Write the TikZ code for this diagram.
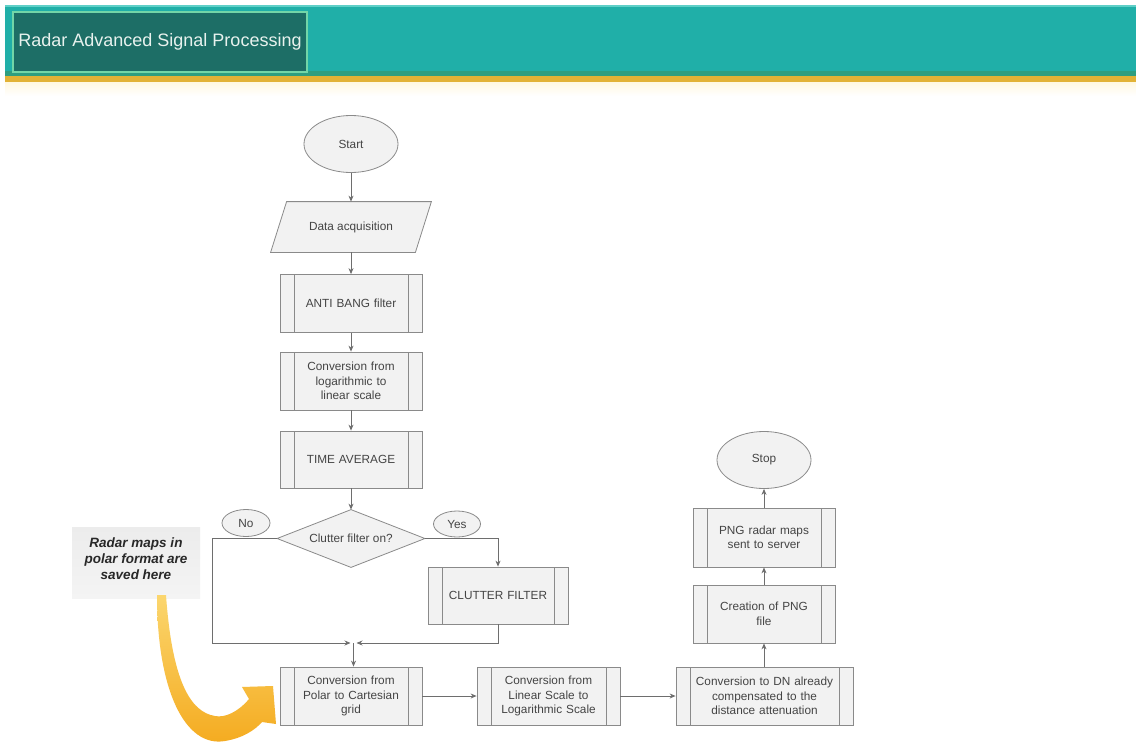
\documentclass[tikz,border=0pt]{standalone}
\usepackage{fontspec}
\setmainfont{Liberation Sans}
\usetikzlibrary{shapes.geometric,arrows.meta,backgrounds}
\definecolor{teal1}{HTML}{20AFA8}
\definecolor{teal2}{HTML}{1D6E66}
\definecolor{tealtop}{HTML}{5FCFC7}
\definecolor{tealbot}{HTML}{2E9E80}
\definecolor{tealedge}{HTML}{72D6A8}
\definecolor{titletxt}{HTML}{E8F2EE}
\definecolor{goldband}{HTML}{E2B236}
\definecolor{cream}{HTML}{FFF8E1}
\definecolor{boxfill}{HTML}{F2F2F2}
\definecolor{boxline}{HTML}{8A8A8A}
\definecolor{linecol}{HTML}{6E6E6E}
\definecolor{txt}{HTML}{444444}
\definecolor{notetxt}{HTML}{282828}
\definecolor{noteA}{HTML}{ECECEC}
\definecolor{noteB}{HTML}{F4F4F4}
\definecolor{arrowA}{HTML}{FBD66E}
\definecolor{arrowB}{HTML}{F4AA1E}
\tikzset{
  x=1pt, y=-1pt,
  base/.style={draw=boxline, fill=boxfill, line width=0.8pt, text=txt,
    font=\fontsize{11.8}{14.5}\selectfont, align=center, inner sep=0pt},
  procbox/.style={base, rectangle, minimum width=142pt, minimum height=58pt, text width=126pt,
    path picture={
      \draw[boxline, line width=0.7pt]
        ([xshift=14pt]path picture bounding box.north west) -- ([xshift=14pt]path picture bounding box.south west)
        ([xshift=-14pt]path picture bounding box.north east) -- ([xshift=-14pt]path picture bounding box.south east);}},
  termbox/.style={base, ellipse, minimum width=94pt, minimum height=57pt},
  tagbox/.style={base, ellipse, minimum width=48pt, minimum height=27pt},
  ghost/.style={base, draw=none, fill=none, rectangle},
  outline/.style={draw=boxline, fill=boxfill, line width=0.8pt},
  conn/.style={draw=linecol, line width=0.8pt},
  arr/.style={conn, -{Stealth[length=6pt,width=5pt]}},
}
\begin{document}
\begin{tikzpicture}
\useasboundingbox (0,0) rectangle (1136,747);
\begin{scope}[on background layer]
\fill[white] (0,0) rectangle (1136,747);
\end{scope}
% header
\fill[teal1] (5,5) rectangle (1136,76);
\fill[tealtop] (5,5) rectangle (1136,7);
\fill[tealbot] (5,71) rectangle (1136,76);
\fill[goldband] (5,76) rectangle (1136,82);
\shade[top color=cream, bottom color=white] (5,82) rectangle (1136,96);
\node[draw=tealedge, fill=teal2, line width=1.2pt, minimum width=294pt, minimum height=60pt,
  inner sep=0pt, text=titletxt, font=\fontsize{18}{20}\selectfont] (title) at (160,42)
  {Radar Advanced Signal Processing};
% flowchart nodes
\node[termbox] (start) at (351,144) {Start};
\node[ghost, minimum width=160pt, minimum height=50pt] (data) at (351,227) {Data acquisition};
\node[procbox] (anti) at (351,303.5) {ANTI BANG filter};
\node[procbox] (log2lin) at (351,381) {Conversion from\\ logarithmic to\\ linear scale};
\node[procbox, minimum height=57pt] (timeavg) at (351,459.5) {TIME AVERAGE};
\node[ghost, minimum width=147pt, minimum height=57pt] (cond) at (351,538.5) {Clutter filter on?};
\begin{scope}[on background layer]
\filldraw[outline]
  ([xshift=16pt]data.north west) -- (data.north east) -- ([xshift=-16pt]data.south east) -- (data.south west) -- cycle;
\filldraw[outline] (cond.north) -- (cond.east) -- (cond.south) -- (cond.west) -- cycle;
\end{scope}
\node[tagbox] (no) at (246,523) {No};
\node[tagbox, minimum width=47pt, minimum height=26pt] (yes) at (457,524) {Yes};
\node[procbox, minimum width=140pt, minimum height=57pt] (clutter) at (498,595.5) {CLUTTER FILTER};
\coordinate (jn) at (353.5,643);
\node[procbox] (polar) at (351,696) {Conversion from\\ Polar to Cartesian\\ grid};
\node[procbox, minimum width=143pt] (lin2log) at (548.5,696) {Conversion from\\ Linear Scale to\\ Logarithmic Scale};
\node[procbox, minimum width=177pt, text width=165pt] (dn) at (764.5,696) {Conversion to DN already\\ compensated to the\\ distance attenuation};
\node[procbox] (create) at (764,614) {Creation of PNG\\ file};
\node[procbox, minimum height=59pt] (sent) at (764,537.5) {PNG radar maps\\ sent to server};
\node[termbox] (stop) at (764,460) {Stop};
% connectors
\draw[arr] (start) -- (data.north);
\draw[arr] (data.south) -- (anti);
\draw[arr] (anti) -- (log2lin);
\draw[arr] (log2lin) -- (timeavg);
\draw[arr] (timeavg) -- (cond.north);
\draw[arr] (cond.west) -| (212,643) -- ([xshift=-3pt]jn);
\draw[arr] (cond.east) -| (clutter.north);
\draw[arr] (clutter.south) |- ([xshift=3pt]jn);
\draw[arr] (jn) -- (jn |- polar.north);
\draw[arr] (polar) -- (lin2log);
\draw[arr] (lin2log) -- (dn);
\draw[arr] (dn.north -| create) -- (create);
\draw[arr] (create) -- (sent);
\draw[arr] (sent) -- (stop);
% annotation
\shade[top color=noteA, bottom color=noteB] (72,527) rectangle (200,598);
\node[text=notetxt, font=\bfseries\itshape\fontsize{13.5}{16}\selectfont, align=center,
  inner sep=0pt] (note) at (136,559) {Radar maps in\\ polar format are\\ saved here};
\shade[top color=arrowA, bottom color=arrowB]
  (157,595) .. controls (157,690) and (185,748) .. (225,741)
  .. controls (243,738) and (255,730) .. (262,722)
  -- (276,724) -- (273,686) -- (242,687) -- (249,699)
  .. controls (238,712) and (225,718) .. (215,716)
  .. controls (190,712) and (172,680) .. (166,595) -- cycle;
\end{tikzpicture}
\end{document}
